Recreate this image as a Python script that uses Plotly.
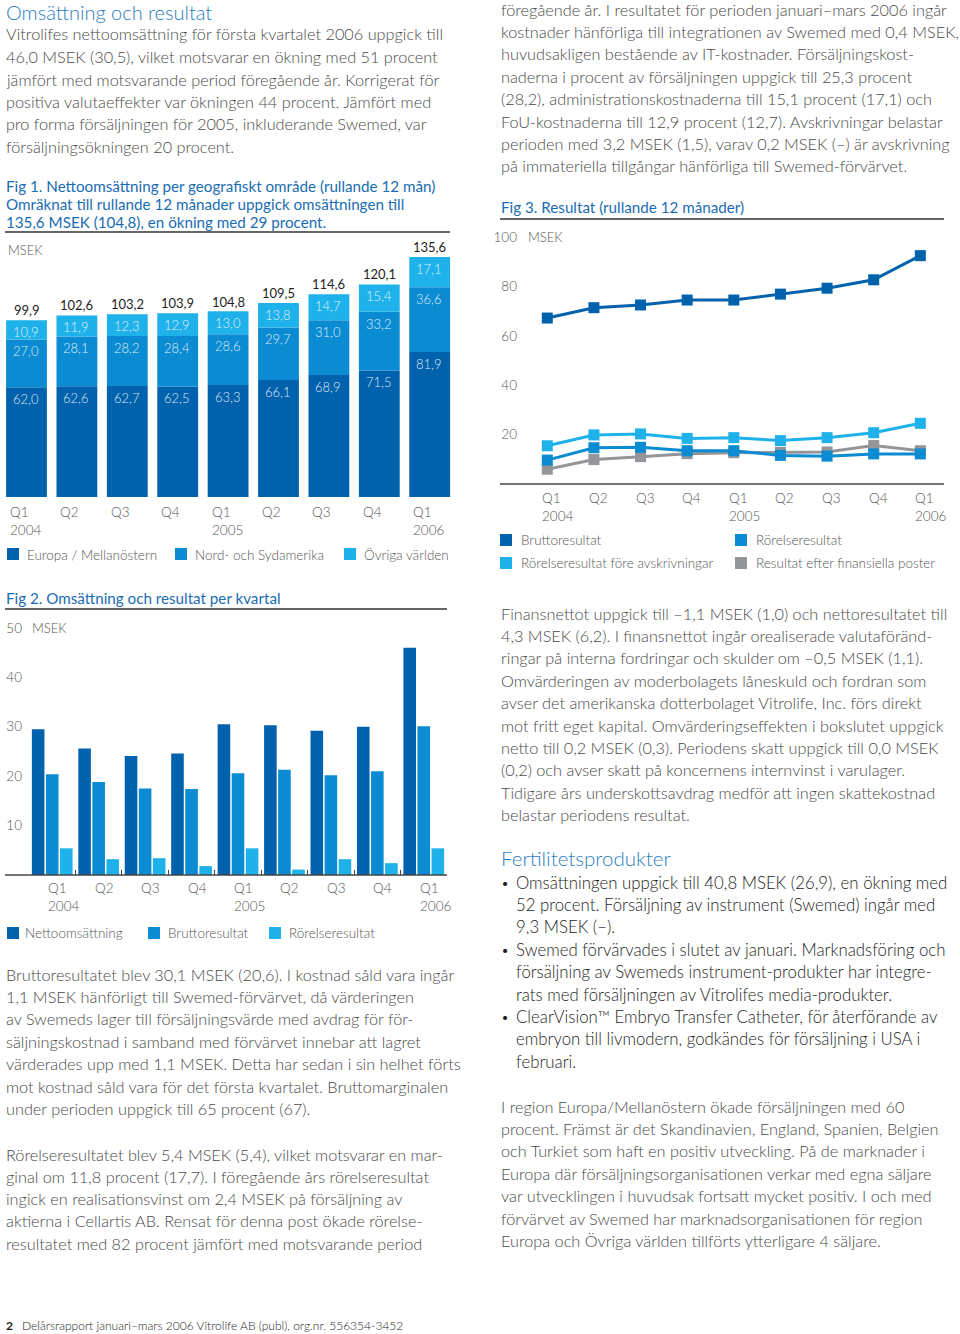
import plotly.graph_objects as go

W, H = 960, 1334
def px(x): return x / W
def py(y): return 1 - y / H

FONT = "Lato"
BODY = "#4a4a4a"
DARK = "#1e1e1e"
BLUE_HEAD = "#2a7dc0"
CAPTION = "#1a6cb2"
AXIS_TXT = "#555555"
BODY_SIZE = 16.3
CAP_SIZE = 15.2

C_DARK = "#0062ad"
C_MED = "#0a8bd2"
C_LIGHT = "#1fb1ea"
C_GRAY = "#939598"

# ---------------- data ----------------
quarters = ["Q1 2004", "Q2 2004", "Q3 2004", "Q4 2004", "Q1 2005",
            "Q2 2005", "Q3 2005", "Q4 2005", "Q1 2006"]
tick_labels = ["Q1<br>2004", "Q2", "Q3", "Q4", "Q1<br>2005",
               "Q2", "Q3", "Q4", "Q1<br>2006"]

# Fig 1: net sales per region, rolling 12 months (MSEK)
europa = [62.0, 62.6, 62.7, 62.5, 63.3, 66.1, 68.9, 71.5, 81.9]
amerika = [27.0, 28.1, 28.2, 28.4, 28.6, 29.7, 31.0, 33.2, 36.6]
ovriga = [10.9, 11.9, 12.3, 12.9, 13.0, 13.8, 14.7, 15.4, 17.1]
totals = [99.9, 102.6, 103.2, 103.9, 104.8, 109.5, 114.6, 120.1, 135.6]

# Fig 2: per quarter (MSEK)
netto_q = [29.5, 25.6, 24.1, 24.6, 30.5, 30.3, 29.2, 30.0, 46.0]
brutto_q = [20.4, 18.8, 17.5, 17.4, 20.6, 21.3, 20.2, 21.0, 30.1]
rorelse_q = [5.4, 3.2, 3.4, 1.8, 5.4, 1.1, 3.2, 2.4, 5.4]

# Fig 3: results, rolling 12 months (MSEK)
brutto_r12 = [67.3, 71.5, 72.6, 74.6, 74.6, 77.0, 79.4, 82.8, 92.6]
rorelse_r12 = [9.7, 14.7, 14.9, 13.5, 13.5, 11.6, 11.3, 12.2, 12.2]
ebitda_r12 = [15.5, 19.9, 20.3, 18.5, 18.8, 17.6, 18.8, 20.8, 24.6]
efterfin_r12 = [6.0, 9.9, 11.1, 12.3, 12.7, 12.8, 13.0, 15.6, 13.5]

def sv(v):
    return f"{v:.1f}".replace(".", ",")

fig = go.Figure()

# ---------------- Fig 1: stacked bars ----------------
base_am = europa
base_ov = [e + a for e, a in zip(europa, amerika)]
for name, vals, base, col in [("Europa / Mellanöstern", europa, [0] * 9, C_DARK),
                              ("Nord- och Sydamerika", amerika, base_am, C_MED),
                              ("Övriga världen", ovriga, base_ov, C_LIGHT)]:
    fig.add_trace(go.Bar(x=quarters, y=vals, base=base, name=name, width=0.81,
                         marker=dict(color=col, line=dict(width=0)),
                         xaxis="x", yaxis="y", showlegend=False, hoverinfo="skip"))

# ---------------- Fig 2: grouped bars ----------------
bw = 0.271
gap = 0.032
for name, vals, off, col in [("Nettoomsättning", netto_q, -1.5 * bw - gap, C_DARK),
                             ("Bruttoresultat", brutto_q, -0.5 * bw, C_MED),
                             ("Rörelseresultat", rorelse_q, 0.5 * bw + gap, C_LIGHT)]:
    fig.add_trace(go.Bar(x=quarters, y=vals, name=name, width=bw, offset=off,
                         marker=dict(color=col, line=dict(width=0)),
                         xaxis="x2", yaxis="y2", showlegend=False, hoverinfo="skip"))

# ---------------- Fig 3: lines ----------------
for name, vals, col in [("Resultat efter finansiella poster", efterfin_r12, C_GRAY),
                        ("Rörelseresultat före avskrivningar", ebitda_r12, C_LIGHT),
                        ("Rörelseresultat", rorelse_r12, C_MED),
                        ("Bruttoresultat", brutto_r12, C_DARK)]:
    fig.add_trace(go.Scatter(x=quarters, y=vals, name=name, mode="lines+markers",
                             line=dict(color=col, width=3),
                             marker=dict(symbol="square", size=11, color=col),
                             xaxis="x3", yaxis="y3", showlegend=False,
                             cliponaxis=False, hoverinfo="skip"))

ann = []
shapes = []

def txt(x, y, s, size=BODY_SIZE, color=BODY, xanchor="left", weight=300, yanchor="middle"):
    ann.append(dict(x=px(x), y=py(y), xref="paper", yref="paper", text=s,
                    showarrow=False, xanchor=xanchor, yanchor=yanchor, align="left",
                    borderpad=0,
                    font=dict(family=FONT, size=size, color=color, weight=weight)))

def hline(x0, x1, y, color="#333333", width=1.5):
    shapes.append(dict(type="line", xref="paper", yref="paper", x0=px(x0), x1=px(x1),
                       y0=py(y), y1=py(y), line=dict(color=color, width=width)))

def square(x, y, color, s=12):
    shapes.append(dict(type="rect", xref="paper", yref="paper", x0=px(x), x1=px(x + s),
                       y0=py(y - s / 2), y1=py(y + s / 2), fillcolor=color,
                       line=dict(width=0)))

def lines(x, y0, dy, arr, **kw):
    for k, s in enumerate(arr):
        txt(x, y0 + k * dy, s, **kw)

# ---------------- Left column text ----------------
txt(5, 12, "Omsättning och resultat", size=20, color=BLUE_HEAD)
lines(5, 34, 22.5, [
    "Vitrolifes nettoomsättning för första kvartalet 2006 uppgick till",
    "46,0 MSEK (30,5), vilket motsvarar en ökning med 51 procent",
    "jämfört med motsvarande period föregående år. Korrigerat för",
    "positiva valutaeffekter var ökningen 44 procent. Jämfört med",
    "pro forma försäljningen för 2005, inkluderande Swemed, var",
    "försäljningsökningen 20 procent.",
])
lines(5, 186, 18, [
    "Fig 1. Nettoomsättning per geografiskt område (rullande 12 mån)",
    "Omräknat till rullande 12 månader uppgick omsättningen till",
    "135,6 MSEK (104,8), en ökning med 29 procent.",
], size=CAP_SIZE, color=CAPTION, weight=400)
hline(5, 450, 232)

txt(7, 250, "MSEK", size=13, color=AXIS_TXT)

# Fig 1 labels
for q, e, a, o, t in zip(quarters, europa, amerika, ovriga, totals):
    for top, v in [(e, e), (e + a, a), (e + a + o, o)]:
        ann.append(dict(x=q, y=top, xref="x", yref="y", text=sv(v), showarrow=False,
                        xanchor="left", yanchor="middle", xshift=-15.5, yshift=-12,
                        font=dict(family=FONT, size=13, color="rgba(255,255,255,0.88)", weight=300)))
    ann.append(dict(x=q, y=t, xref="x", yref="y", text=sv(t), showarrow=False,
                    xanchor="center", yanchor="middle", yshift=10,
                    font=dict(family=FONT, size=13, color=DARK, weight=400)))
for q, lab in zip(quarters, tick_labels):
    ann.append(dict(x=q, y=py(502), xref="x", yref="paper", text=lab, showarrow=False,
                    xanchor="left", yanchor="top", align="left", xshift=-18.5,
                    font=dict(family=FONT, size=13.5, color=AXIS_TXT, weight=300)))

# Fig 1 legend
for sx, tx, col, lab in [(7, 26, C_DARK, "Europa / Mellanöstern"),
                         (175, 194, C_MED, "Nord- och Sydamerika"),
                         (344, 363, C_LIGHT, "Övriga världen")]:
    square(sx, 554, col)
    txt(tx, 555, lab, size=13.5, color=AXIS_TXT)

# Fig 2
txt(5, 598, "Fig 2. Omsättning och resultat per kvartal", size=CAP_SIZE, color=CAPTION, weight=400)
hline(5, 447, 609)
txt(31, 628, "MSEK", size=13, color=AXIS_TXT)
hline(5, 447, 875, color="#444444", width=1.5)
for q, lab in zip(quarters, tick_labels):
    ann.append(dict(x=q, y=py(878), xref="x2", yref="paper", text=lab, showarrow=False,
                    xanchor="left", yanchor="top", align="left", xshift=-6,
                    font=dict(family=FONT, size=13.5, color=AXIS_TXT, weight=300)))
for sx, tx, col, lab in [(7, 24, C_DARK, "Nettoomsättning"),
                         (148, 167, C_MED, "Bruttoresultat"),
                         (269, 288, C_LIGHT, "Rörelseresultat")]:
    square(sx, 933, col)
    txt(tx, 933, lab, size=13.5, color=AXIS_TXT)

lines(5, 974, 22.45, [
    "Bruttoresultatet blev 30,1 MSEK (20,6). I kostnad såld vara ingår",
    "1,1 MSEK hänförligt till Swemed-förvärvet, då värderingen",
    "av Swemeds lager till försäljningsvärde med avdrag för för-",
    "säljningskostnad i samband med förvärvet innebar att lagret",
    "värderades upp med 1,1 MSEK. Detta har sedan i sin helhet förts",
    "mot kostnad såld vara för det första kvartalet. Bruttomarginalen",
    "under perioden uppgick till 65 procent (67).",
])
lines(5, 1154, 22.3, [
    "Rörelseresultatet blev 5,4 MSEK (5,4), vilket motsvarar en mar-",
    "ginal om 11,8 procent (17,7). I föregående års rörelseresultat",
    "ingick en realisationsvinst om 2,4 MSEK på försäljning av",
    "aktierna i Cellartis AB. Rensat för denna post ökade rörelse-",
    "resultatet med 82 procent jämfört med motsvarande period",
])

# ---------------- Right column ----------------
lines(500, 9, 22.4, [
    "föregående år. I resultatet för perioden januari–mars 2006 ingår",
    "kostnader hänförliga till integrationen av Swemed med 0,4 MSEK,",
    "huvudsakligen bestående av IT-kostnader. Försäljningskost-",
    "naderna i procent av försäljningen uppgick till 25,3 procent",
    "(28,2), administrationskostnaderna till 15,1 procent (17,1) och",
    "FoU-kostnaderna till 12,9 procent (12,7). Avskrivningar belastar",
    "perioden med 3,2 MSEK (1,5), varav 0,2 MSEK (–) är avskrivning",
    "på immateriella tillgångar hänförliga till Swemed-förvärvet.",
])
txt(500, 207, "Fig 3. Resultat (rullande 12 månader)", size=CAP_SIZE, color=CAPTION, weight=400)
hline(500, 944, 219)
txt(527, 237, "MSEK", size=13, color=AXIS_TXT)
hline(500, 944, 484, color="#444444", width=1.5)
for q, lab in zip(quarters, tick_labels):
    ann.append(dict(x=q, y=py(488), xref="x3", yref="paper", text=lab, showarrow=False,
                    xanchor="left", yanchor="top", align="left", xshift=-7,
                    font=dict(family=FONT, size=13.5, color=AXIS_TXT, weight=300)))
for sx, tx, yy, col, lab in [(500, 520, 540, C_DARK, "Bruttoresultat"),
                             (735, 755, 540, C_MED, "Rörelseresultat"),
                             (500, 520, 563, C_LIGHT, "Rörelseresultat före avskrivningar"),
                             (735, 755, 563, C_GRAY, "Resultat efter finansiella poster")]:
    square(sx, yy, col)
    txt(tx, yy, lab, size=13.5, color=AXIS_TXT)

lines(500, 613, 22.4, [
    "Finansnettot uppgick till –1,1 MSEK (1,0) och nettoresultatet till",
    "4,3 MSEK (6,2). I finansnettot ingår orealiserade valutaföränd-",
    "ringar på interna fordringar och skulder om –0,5 MSEK (1,1).",
    "Omvärderingen av moderbolagets låneskuld och fordran som",
    "avser det amerikanska dotterbolaget Vitrolife, Inc. förs direkt",
    "mot fritt eget kapital. Omvärderingseffekten i bokslutet uppgick",
    "netto till 0,2 MSEK (0,3). Periodens skatt uppgick till 0,0 MSEK",
    "(0,2) och avser skatt på koncernens internvinst i varulager.",
    "Tidigare års underskottsavdrag medför att ingen skattekostnad",
    "belastar periodens resultat.",
])
txt(500, 858, "Fertilitetsprodukter", size=20.5, color=BLUE_HEAD)
bullet_lines = [
    ("•", "Omsättningen uppgick till 40,8 MSEK (26,9), en ökning med"),
    ("", "52 procent. Försäljning av instrument (Swemed) ingår med"),
    ("", "9,3 MSEK (–)."),
    ("•", "Swemed förvärvades i slutet av januari. Marknadsföring och"),
    ("", "försäljning av Swemeds instrument-produkter har integre-"),
    ("", "rats med försäljningen av Vitrolifes media-produkter."),
    ("•", "ClearVision™ Embryo Transfer Catheter, för återförande av"),
    ("", "embryon till livmodern, godkändes för försäljning i USA i"),
    ("", "februari."),
]
for k, (b, s) in enumerate(bullet_lines):
    y = 882 + k * 22.4
    if b:
        txt(500, y, b, color=DARK, size=14, weight=300)
    txt(515, y, s, color=DARK, size=16.8, weight=300)
lines(500, 1106, 22.45, [
    "I region Europa/Mellanöstern ökade försäljningen med 60",
    "procent. Främst är det Skandinavien, England, Spanien, Belgien",
    "och Turkiet som haft en positiv utveckling. På de marknader i",
    "Europa där försäljningsorganisationen verkar med egna säljare",
    "var utvecklingen i huvudsak fortsatt mycket positiv. I och med",
    "förvärvet av Swemed har marknadsorganisationen för region",
    "Europa och Övriga världen tillförts ytterligare 4 säljare.",
])

# Footer
txt(5, 1325, "2", size=12, color=DARK, weight=700)
txt(21, 1325, "Delårsrapport januari–mars 2006 Vitrolife AB (publ), org.nr. 556354-3452",
    size=12, color=DARK, weight=300)

axis_off = dict(showgrid=False, zeroline=False, showline=False, ticks="",
                showticklabels=False)

fig.update_layout(
    width=W, height=H,
    margin=dict(l=0, r=0, t=0, b=0),
    paper_bgcolor="white", plot_bgcolor="rgba(0,0,0,0)",
    barmode="overlay",
    showlegend=False,
    font=dict(family=FONT, color=BODY),
    xaxis=dict(domain=[px(1.3), px(454.9)], range=[-0.5, 8.5], type="category",
               anchor="y", **axis_off),
    yaxis=dict(domain=[py(497), py(240)], range=[0, 145.2], anchor="x", **axis_off),
    xaxis2=dict(domain=[px(29), px(447)], range=[-0.5, 8.5], type="category",
                anchor="y2", showgrid=False, zeroline=False, showline=False,
                ticks="inside", tickson="boundaries", ticklen=5, tickwidth=1,
                tickcolor="#444444", showticklabels=False),
    yaxis2=dict(domain=[py(875), py(620)], range=[0, 51.6], anchor="x2",
                showgrid=False, zeroline=False, showline=False, ticks="",
                tickvals=[10, 20, 30, 40, 50], ticklabelstandoff=6,
                tickfont=dict(family=FONT, size=13.5, color=AXIS_TXT, weight=300)),
    xaxis3=dict(domain=[px(523), px(944)], range=[-0.521, 8.508], type="category",
                anchor="y3", **axis_off),
    yaxis3=dict(domain=[py(484), py(230)], range=[0, 103], anchor="x3",
                showgrid=False, zeroline=False, showline=False, ticks="",
                tickvals=[20, 40, 60, 80, 100], ticklabelstandoff=5,
                tickfont=dict(family=FONT, size=13.5, color=AXIS_TXT, weight=300)),
    annotations=ann,
    shapes=shapes,
)

fig.write_html("out.html", config={"displayModeBar": False},
               post_script="document.body.style.margin='0px';")
